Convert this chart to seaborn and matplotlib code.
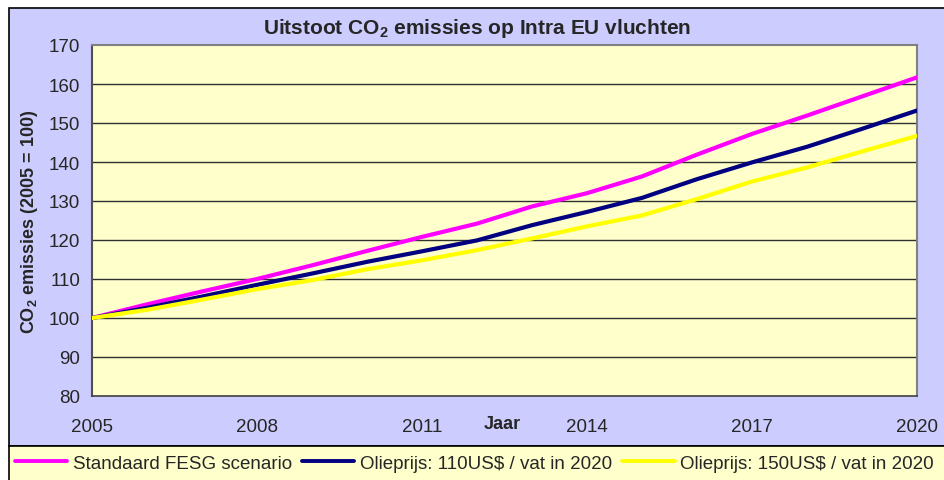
import matplotlib
matplotlib.use("Agg")
import matplotlib.pyplot as plt
from matplotlib.patches import Rectangle
import seaborn as sns
import pandas as pd

years = list(range(2005, 2021))
standaard = [100, 103.5, 106.8, 110.0, 113.5, 117.2, 120.8, 124.2, 128.6, 132.0,
             136.3, 141.9, 147.2, 151.9, 156.8, 161.7]
olie110 = [100, 102.6, 105.5, 108.5, 111.4, 114.4, 117.1, 119.9, 123.8, 127.2,
           130.8, 135.6, 139.9, 143.9, 148.5, 153.2]
olie150 = [100, 102.1, 104.7, 107.4, 109.7, 112.5, 114.8, 117.4, 120.4, 123.5,
           126.3, 130.5, 135.0, 138.6, 142.7, 146.7]
series_names = ["Standaard FESG scenario", "Olieprijs: 110US$ / vat in 2020",
                "Olieprijs: 150US$ / vat in 2020"]
colors = ["#FF00FF", "#000080", "#FFFF00"]
xticks = [2005, 2008, 2011, 2014, 2017, 2020]
yticks = list(range(80, 171, 10))

df = pd.DataFrame({
    "Jaar": years * 3,
    "Waarde": standaard + olie110 + olie150,
    "Serie": [series_names[0]] * 16 + [series_names[1]] * 16 + [series_names[2]] * 16,
})

sns.set_style("white")
plt.rcParams["font.family"] = ["Liberation Sans", "DejaVu Sans"]
plt.rcParams["mathtext.fontset"] = "custom"
plt.rcParams["mathtext.rm"] = "Liberation Sans"
plt.rcParams["mathtext.bf"] = "Liberation Sans:bold"

W, H = 945, 481
fig = plt.figure(figsize=(W / 100, H / 100), dpi=100, facecolor="white")

# chart area background
fig.patches.append(Rectangle((9 / W, 1 - 447 / H), 940 / W, 438 / H, transform=fig.transFigure,
                             facecolor="#CCCCFF", edgecolor="black", linewidth=1.2, zorder=-5))
# legend box
fig.patches.append(Rectangle((9 / W, -0.01), 940 / W, 34 / H + 0.01, transform=fig.transFigure,
                             facecolor="#FFFFCC", edgecolor="black", linewidth=1.2, zorder=-5))

ax = fig.add_axes([92 / W, 1 - 397 / H, (917 - 92) / W, (397 - 46) / H])
ax.set_facecolor("#FFFFCC")

sns.lineplot(data=df, x="Jaar", y="Waarde", hue="Serie", palette=colors,
             linewidth=3.0, ax=ax, legend=False, zorder=3)

ax.set_xlim(2005, 2020)
ax.set_ylim(80, 170)
ax.set_xticks(xticks)
ax.set_yticks(yticks)
ax.tick_params(axis="both", direction="out", length=4.5, width=1, color="black",
               labelsize=13.5, pad=4)
ax.tick_params(axis="x", pad=11)
for y in yticks[1:-1]:
    ax.axhline(y, color="#303030", linewidth=1.0, zorder=1)
for s in ["top", "right"]:
    ax.spines[s].set_color("#808080")
    ax.spines[s].set_linewidth(1.5)
ax.spines["left"].set_color("#505050")
ax.spines["left"].set_linewidth(1.5)
ax.spines["bottom"].set_color("#404040")
ax.spines["bottom"].set_linewidth(1.2)

ax.set_xlabel("")
ax.set_ylabel(r"CO$_\mathbf{2}$ emissies (2005 = 100)", fontsize=13, fontweight="bold", labelpad=6)
ax.text(0.497, -0.079, "Jaar", transform=ax.transAxes, ha="center", va="center",
        fontsize=13, fontweight="bold")

fig.text(477 / W, 1 - 28 / H, r"Uitstoot CO$_\mathbf{2}$ emissies op Intra EU vluchten",
         ha="center", va="center", fontsize=15, fontweight="bold")

# legend: one entry per position, as in the reference
legend_x = [15, 302, 622]
for name, c, lx in zip(series_names, colors, legend_x):
    h = plt.Line2D([], [], color=c, linewidth=2.8)
    fig.legend([h], [name], loc="center left",
               bbox_to_anchor=(lx / W, 1 - 464 / H), borderaxespad=0, borderpad=0,
               frameon=False, fontsize=13.5, handlelength=2.8, handletextpad=0.27)

fig.savefig("out.png", dpi=100, facecolor="white")
